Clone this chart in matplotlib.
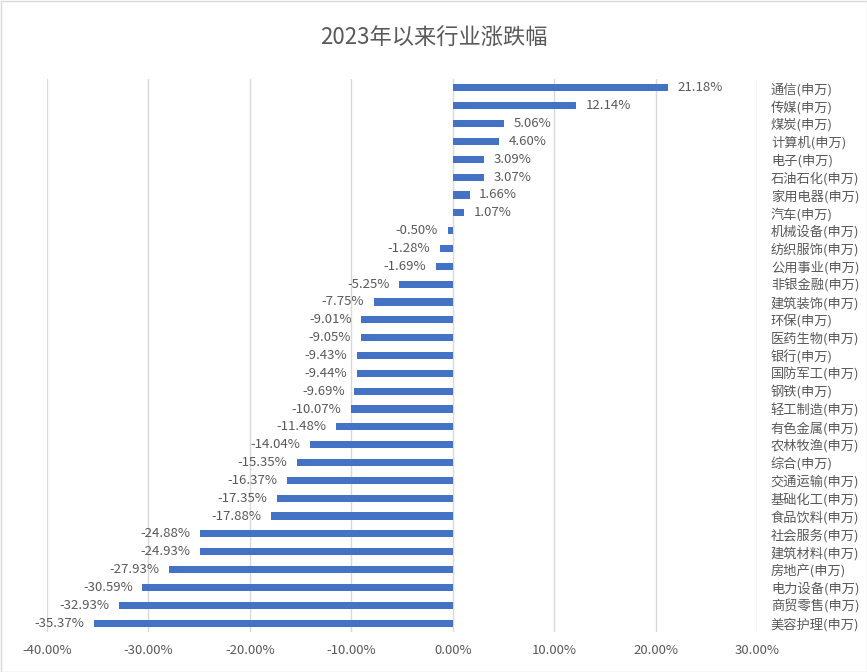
import matplotlib
matplotlib.use("Agg")
import matplotlib.pyplot as plt
from matplotlib.ticker import FuncFormatter
from matplotlib.patches import Rectangle

plt.rcParams['font.family'] = ['Noto Sans CJK SC', 'DejaVu Sans']

categories = ["通信(申万)", "传媒(申万)", "煤炭(申万)", "计算机(申万)", "电子(申万)",
              "石油石化(申万)", "家用电器(申万)", "汽车(申万)", "机械设备(申万)", "纺织服饰(申万)",
              "公用事业(申万)", "非银金融(申万)", "建筑装饰(申万)", "环保(申万)", "医药生物(申万)",
              "银行(申万)", "国防军工(申万)", "钢铁(申万)", "轻工制造(申万)", "有色金属(申万)",
              "农林牧渔(申万)", "综合(申万)", "交通运输(申万)", "基础化工(申万)", "食品饮料(申万)",
              "社会服务(申万)", "建筑材料(申万)", "房地产(申万)", "电力设备(申万)", "商贸零售(申万)",
              "美容护理(申万)"]
values = [21.18, 12.14, 5.06, 4.60, 3.09, 3.07, 1.66, 1.07, -0.50, -1.28,
          -1.69, -5.25, -7.75, -9.01, -9.05, -9.43, -9.44, -9.69, -10.07, -11.48,
          -14.04, -15.35, -16.37, -17.35, -17.88, -24.88, -24.93, -27.93, -30.59, -32.93,
          -35.37]
title = "2023年以来行业涨跌幅"
xticks = [-40, -30, -20, -10, 0, 10, 20, 30]

text_color = "#595959"
bar_color = "#4472C4"

fig = plt.figure(figsize=(8.67, 6.72), dpi=100)
ax = fig.add_axes([47/867, 1-632/672, (757-47)/867, (632-79)/672])

pos = list(range(len(categories)))
ax.barh(pos, values, height=0.4, color=bar_color, zorder=3)

for p, v in zip(pos, values):
    if v >= 0:
        ax.annotate(f"{v:.2f}%", (v, p), xytext=(7, 0), textcoords="offset points",
                    ha="left", va="center", fontsize=9.5, color=text_color)
    else:
        ax.annotate(f"{v:.2f}%", (v, p), xytext=(-7, 0), textcoords="offset points",
                    ha="right", va="center", fontsize=9.5, color=text_color)

ax.set_xlim(-40, 30)
ax.set_ylim(len(categories) - 0.5, -0.5)
ax.set_xticks(xticks)
ax.xaxis.set_major_formatter(FuncFormatter(lambda x, _: f"{x:.2f}%"))
ax.set_yticks(pos)
ax.set_yticklabels(categories)
ax.yaxis.tick_right()
ax.tick_params(axis='y', length=0, pad=10, labelsize=9.5, labelcolor=text_color)
ax.tick_params(axis='x', length=0, pad=9, labelsize=9.5, labelcolor=text_color)
ax.grid(axis='x', color="#d9d9d9", linewidth=1, zorder=0)
for s in ax.spines.values():
    s.set_visible(False)

fig.text(0.5, 1-38/672, title, ha="center", va="center", fontsize=16, color=text_color)
fig.patches.append(Rectangle((0.5/867, 0.5/672), 1-1/867, 1-1/672, transform=fig.transFigure,
                             fill=False, edgecolor="#d9d9d9", linewidth=1))

fig.savefig("out.png", dpi=100)
